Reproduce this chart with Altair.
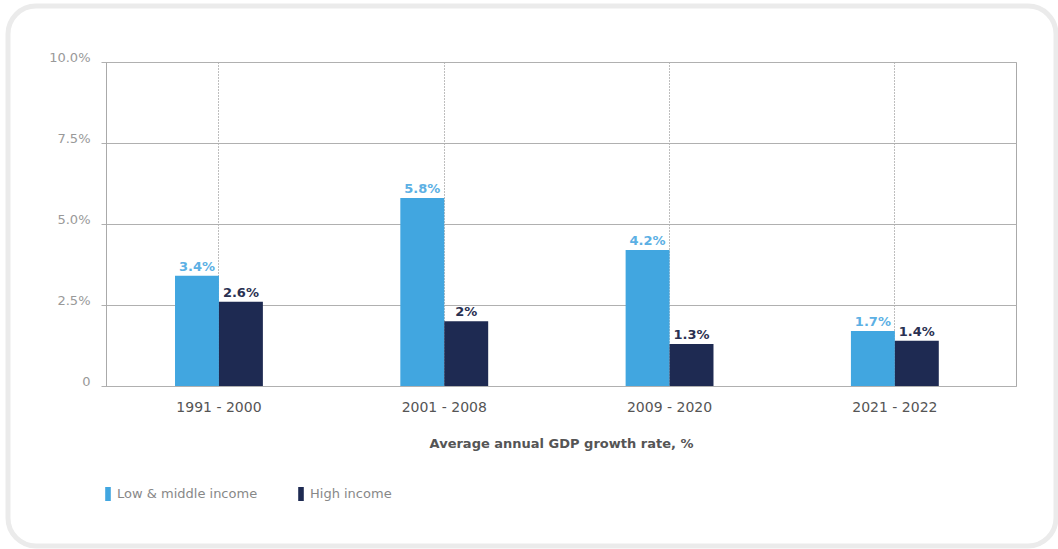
import altair as alt
import pandas as pd

periods = ["1991 - 2000", "2001 - 2008", "2009 - 2020", "2021 - 2022"]
low_middle = [3.4, 5.8, 4.2, 1.7]
high = [2.6, 2.0, 1.3, 1.4]
series = ["Low & middle income", "High income"]
bar_colors = ["#41a6e0", "#1e2a52"]
label_colors = ["#5cb0e4", "#2a3152"]
y_ticks = [0, 2.5, 5, 7.5, 10]

rows = []
for i, p in enumerate(periods):
    rows.append({"period": p, "series": series[0], "value": low_middle[i]})
    rows.append({"period": p, "series": series[1], "value": high[i]})
df = pd.DataFrame(rows)

FONT = "DejaVu Sans"

x = alt.X(
    "period:N", sort=periods,
    scale=alt.Scale(paddingInner=0.61, paddingOuter=0.3245, align=0.472),
    axis=alt.Axis(
        title="Average annual GDP growth rate, %", labelAngle=0, ticks=False,
        domain=False, grid=True, gridDash=[1, 2], gridColor="#7c7c7c",
        bandPosition=0.5, labelPadding=14, labelFontSize=14, labelColor="#555555",
        titleFontSize=13, titleFontWeight="bold", titleColor="#555555",
        titlePadding=23, labelFont=FONT, titleFont=FONT,
    ),
)
xo = alt.XOffset("series:N", sort=series, scale=alt.Scale(paddingInner=0, paddingOuter=0))
y = alt.Y(
    "value:Q", scale=alt.Scale(domain=[0, 10]),
    axis=alt.Axis(
        values=y_ticks,
        labelExpr="datum.value == 0 ? '0' : format(datum.value, '.1f') + '%'",
        title=None, domain=True, domainColor="#aaaaaa", grid=True,
        gridColor="#b0b0b0", tickSize=5, tickColor="#b0b0b0", labelPadding=11,
        labelFontSize=13, labelColor="#999999", labelBaseline="alphabetic",
        labelOffset=-1, labelFlush=False, labelFont=FONT,
    ),
)

bars = alt.Chart(df).mark_bar().encode(
    x=x, xOffset=xo, y=y,
    color=alt.Color(
        "series:N", sort=series,
        scale=alt.Scale(domain=series, range=bar_colors),
        legend=alt.Legend(
            orient="none", legendX=-5, legendY=425, direction="horizontal",
            title=None, symbolType="M-0.4,-1H0.4V1H-0.4Z", symbolSize=196,
            symbolStrokeWidth=0, labelFontSize=13, labelColor="#888888",
            labelFont=FONT, labelOffset=2, columnPadding=36,
        ),
    ),
)

labels = alt.Chart(df).transform_calculate(
    lbl="format(datum.value, '.1~f') + '%'"
).mark_text(
    baseline="bottom", dy=-2, fontWeight="bold", fontSize=13, font=FONT
).encode(
    x=x, xOffset=xo, y=y,
    text="lbl:N",
    color=alt.Color("series:N", sort=series,
                    scale=alt.Scale(domain=series, range=label_colors), legend=None),
)

card = alt.Chart(alt.Data(values=[{"a": 1}])).mark_rect(
    fillOpacity=0, stroke="#ebebeb", strokeWidth=5, cornerRadius=28
).encode(
    x=alt.value(-98), x2=alt.value(950), y=alt.value(-56), y2=alt.value(484)
)

chart = alt.layer(card, bars, labels).resolve_scale(color="independent").properties(
    width=910, height=324,
    autosize=alt.AutoSizeParams(type="none"),
    padding={"left": 106, "top": 62, "right": 42, "bottom": 163},
).configure(background="white", font=FONT).configure_view(stroke="#aaaaaa", strokeWidth=1)

chart.save("out.html", embed_options={"renderer": "svg", "actions": False})
